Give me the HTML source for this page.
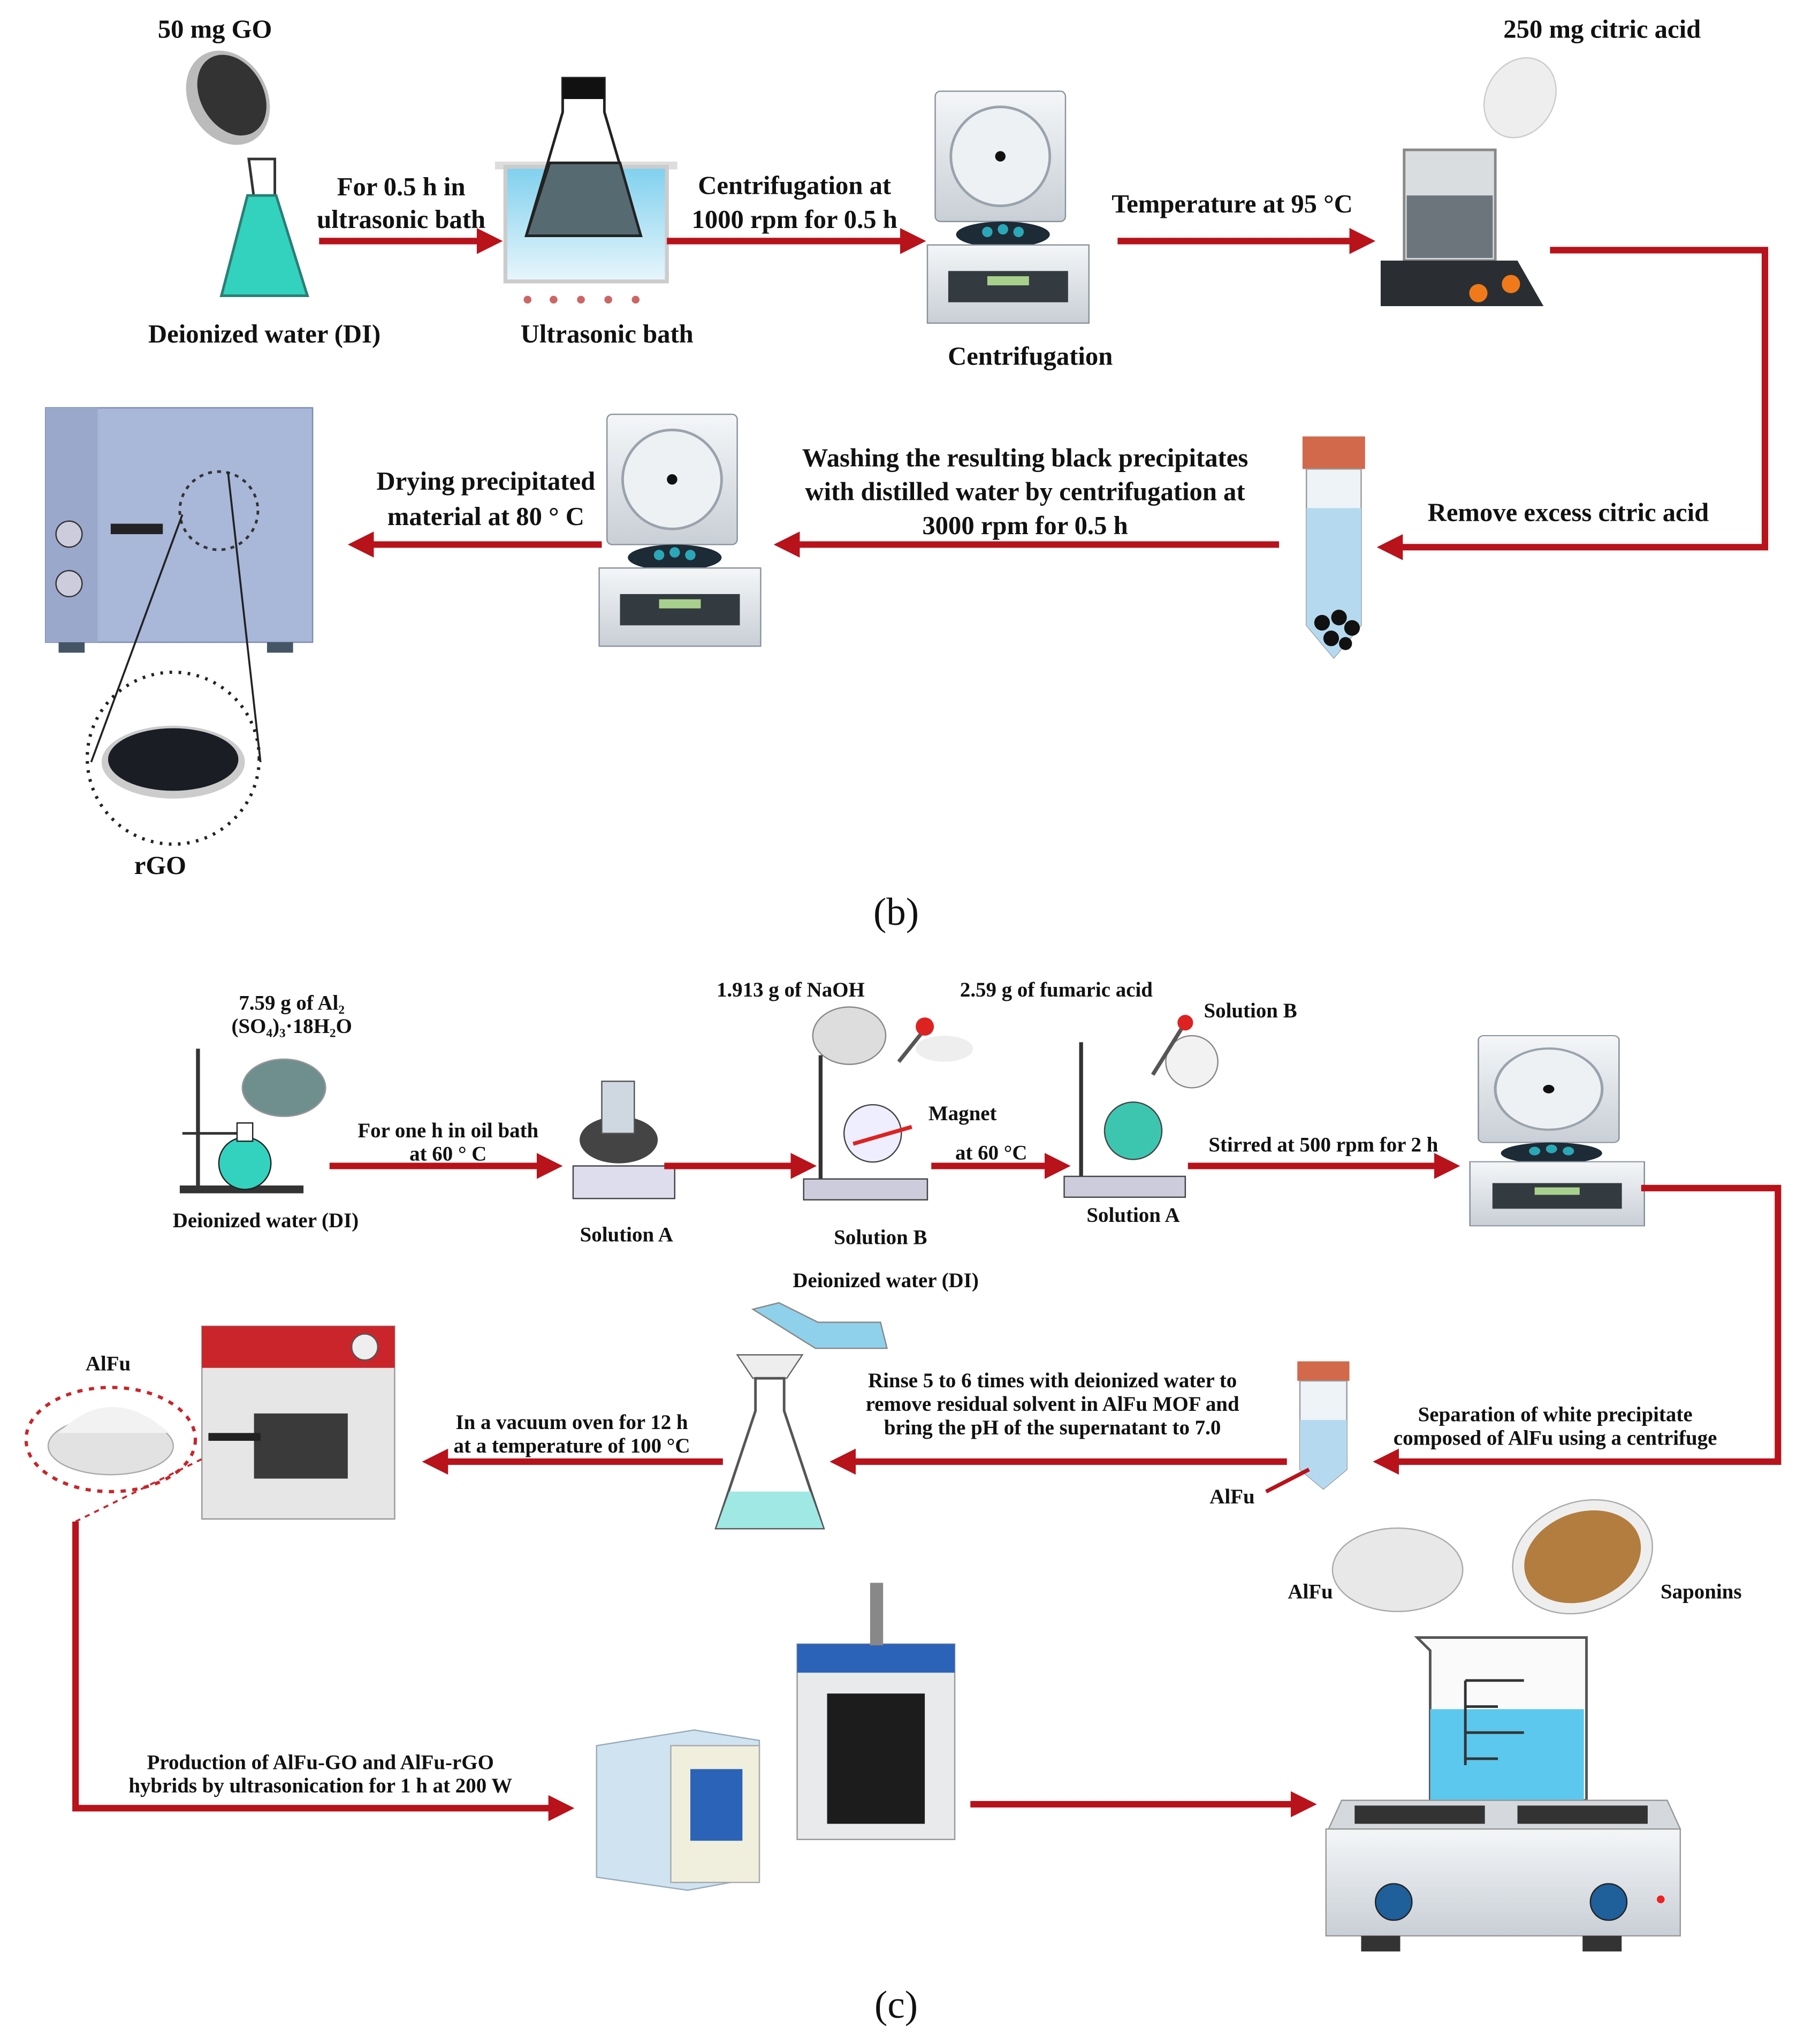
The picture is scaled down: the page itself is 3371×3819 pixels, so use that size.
<!DOCTYPE html>
<html><head><meta charset="utf-8"><style>
html,body{margin:0;padding:0;background:#fff;}
svg{display:block;}
text{font-family:"Liberation Serif",serif;font-weight:bold;fill:#111;text-anchor:middle;}
.b{font-size:20px;}
.c{font-size:16px;}
.ln{stroke:#b8121b;stroke-width:5;fill:none;}
</style></head><body>
<svg width="3371" height="3819" viewBox="0 0 1385 1569" xmlns="http://www.w3.org/2000/svg">
<defs>
<marker id="ah" markerWidth="4" markerHeight="4" refX="2" refY="2" orient="auto" markerUnits="strokeWidth"><path d="M0,0 L4,2 L0,4 z" fill="#b8121b"/></marker>
<linearGradient id="blue" x1="0" y1="0" x2="0" y2="1"><stop offset="0" stop-color="#7fd0ee"/><stop offset="1" stop-color="#e8f6fc"/></linearGradient>
<linearGradient id="gray" x1="0" y1="0" x2="0" y2="1"><stop offset="0" stop-color="#f4f6f8"/><stop offset="1" stop-color="#c9cfd6"/></linearGradient>
<g id="cent">
<rect x="0" y="0" width="100" height="100" rx="4" fill="url(#gray)" stroke="#8a939c"/>
<circle cx="50" cy="50" r="38" fill="#eef1f4" stroke="#9aa3ac" stroke-width="2"/>
<circle cx="50" cy="50" r="4" fill="#111"/>
<ellipse cx="52" cy="110" rx="36" ry="10" fill="#1d2b36"/>
<circle cx="40" cy="108" r="4" fill="#2aa8b8"/><circle cx="52" cy="106" r="4" fill="#2aa8b8"/><circle cx="64" cy="108" r="4" fill="#2aa8b8"/>
<rect x="-6" y="118" width="124" height="60" fill="url(#gray)" stroke="#8a939c"/>
<rect x="10" y="138" width="92" height="24" fill="#333a40"/>
<rect x="40" y="142" width="32" height="7" fill="#a8d08d"/>
</g>
</defs>

<!-- ===== (b) ===== -->
<text class="b" x="165" y="29">50 mg GO</text>
<ellipse cx="175" cy="75" rx="30" ry="38" fill="#bbb" transform="rotate(-30 175 75)"/>
<ellipse cx="178" cy="73" rx="24" ry="33" fill="#333" transform="rotate(-30 178 73)"/>
<path d="M191,122 h20 v30 l25,75 h-66 l25,-75z" fill="#fff" stroke="#333" stroke-width="2"/>
<path d="M190,150 h22 l24,77 h-66z" fill="#33d2be" stroke="#2a7f74" stroke-width="2"/>
<text class="b" x="203" y="263">Deionized water (DI)</text>
<line class="ln" x1="245" y1="185" x2="376" y2="185" marker-end="url(#ah)"/>
<text class="b" x="308" y="150">For 0.5 h in</text>
<text class="b" x="308" y="175">ultrasonic bath</text>

<rect x="380" y="124" width="140" height="6" fill="#ddd"/>
<rect x="388" y="128" width="124" height="88" fill="url(#blue)" stroke="#ccc" stroke-width="3"/>
<path d="M432,60 h32 v26 l28,95 h-88 l28,-95z" fill="#fff" stroke="#222" stroke-width="2"/>
<rect x="432" y="60" width="32" height="16" fill="#111"/>
<path d="M422,125 h54 l16,56 h-88z" fill="#566a72" stroke="#222" stroke-width="2"/>
<g fill="#c66" ><circle cx="405" cy="230" r="3"/><circle cx="425" cy="230" r="3"/><circle cx="446" cy="230" r="3"/><circle cx="467" cy="230" r="3"/><circle cx="488" cy="230" r="3"/></g>
<text class="b" x="466" y="263">Ultrasonic bath</text>
<line class="ln" x1="512" y1="185" x2="701" y2="185" marker-end="url(#ah)"/>
<text class="b" x="610" y="149">Centrifugation at</text>
<text class="b" x="610" y="175">1000 rpm for 0.5 h</text>
<use href="#cent" transform="translate(718,70) scale(1.0)"/>
<text class="b" x="791" y="280">Centrifugation</text>
<line class="ln" x1="858" y1="185" x2="1046" y2="185" marker-end="url(#ah)"/>
<text class="b" x="946" y="163">Temperature at 95 °C</text>

<text class="b" x="1230" y="29">250 mg citric acid</text>
<ellipse cx="1167" cy="75" rx="26" ry="32" fill="#eee" stroke="#ccc" transform="rotate(30 1167 75)"/>
<rect x="1078" y="115" width="70" height="85" fill="#d9dde0" stroke="#888" stroke-width="2"/>
<rect x="1080" y="150" width="66" height="48" fill="#6d757c"/>
<path d="M1060,200 h105 l20,35 h-125z" fill="#2a2e33"/>
<circle cx="1135" cy="225" r="7" fill="#f07a1a"/><circle cx="1160" cy="218" r="7" fill="#f07a1a"/>
<polyline class="ln" points="1190,192 1355,192 1355,420 1067,420" marker-end="url(#ah)"/>
<text class="b" x="1204" y="400">Remove excess citric acid</text>

<rect x="1000" y="335" width="48" height="25" fill="#d2694a"/>
<path d="M1003,360 h42 v120 l-21,25 l-21,-25z" fill="#eef3f7" stroke="#999"/>
<path d="M1003,390 h42 v90 l-21,25 l-21,-25z" fill="#b5daf0"/>
<g fill="#111"><circle cx="1015" cy="478" r="6"/><circle cx="1028" cy="474" r="6"/><circle cx="1038" cy="482" r="6"/><circle cx="1022" cy="490" r="6"/><circle cx="1033" cy="494" r="5"/></g>
<line class="ln" x1="982" y1="418" x2="604" y2="418" marker-end="url(#ah)"/>
<text class="b" x="787" y="358">Washing the resulting black precipitates</text>
<text class="b" x="787" y="384">with distilled water by centrifugation at</text>
<text class="b" x="787" y="410">3000 rpm for 0.5 h</text>
<use href="#cent" transform="translate(466,318)"/>
<line class="ln" x1="462" y1="418" x2="277" y2="418" marker-end="url(#ah)"/>
<text class="b" x="373" y="376">Drying precipitated</text>
<text class="b" x="373" y="403">material at 80 ° C</text>

<rect x="35" y="313" width="205" height="180" fill="#a9b7d9" stroke="#7c8bb0"/>
<rect x="35" y="313" width="40" height="180" fill="#9aa8cc"/>
<rect x="45" y="493" width="20" height="8" fill="#456"/><rect x="205" y="493" width="20" height="8" fill="#456"/>
<circle cx="53" cy="410" r="10" fill="#ccd" stroke="#333"/><circle cx="53" cy="448" r="10" fill="#ccd" stroke="#333"/>
<rect x="85" y="402" width="40" height="8" fill="#222"/>
<circle cx="168" cy="392" r="30" fill="none" stroke="#333" stroke-width="2" stroke-dasharray="3 4"/>
<line x1="140" y1="395" x2="70" y2="585" stroke="#222" stroke-width="1.5"/>
<line x1="175" y1="362" x2="200" y2="585" stroke="#222" stroke-width="1.5"/>
<circle cx="133" cy="582" r="66" fill="none" stroke="#222" stroke-width="2.5" stroke-dasharray="2 5"/>
<ellipse cx="133" cy="585" rx="55" ry="28" fill="#ccc"/>
<ellipse cx="133" cy="583" rx="50" ry="24" fill="#1a1d24"/>
<text class="b" x="123" y="671">rGO</text>
<text x="688" y="710" style="font-size:30px;font-weight:normal">(b)</text>

<!-- ===== (c) ===== -->
<text class="c" x="224" y="775">7.59 g of Al₂</text>
<text class="c" x="224" y="793">(SO₄)₃·18H₂O</text>
<ellipse cx="218" cy="835" rx="32" ry="22" fill="#6f8f8f" stroke="#999"/>
<line x1="152" y1="805" x2="152" y2="912" stroke="#333" stroke-width="3"/>
<rect x="138" y="910" width="95" height="6" fill="#333"/>
<line x1="140" y1="870" x2="185" y2="870" stroke="#333" stroke-width="2"/>
<circle cx="188" cy="893" r="20" fill="#33d2be" stroke="#222"/>
<rect x="182" y="862" width="12" height="14" fill="#fff" stroke="#222"/>
<text class="c" x="204" y="942">Deionized water (DI)</text>
<line class="ln" x1="253" y1="895" x2="422" y2="895" marker-end="url(#ah)"/>
<text class="c" x="344" y="873">For one h in oil bath</text>
<text class="c" x="344" y="891">at 60 ° C</text>
<rect x="440" y="895" width="78" height="25" fill="#dde" stroke="#444"/>
<ellipse cx="475" cy="875" rx="30" ry="18" fill="#444"/>
<rect x="462" y="830" width="25" height="40" fill="#cfd8e0" stroke="#555"/>
<text class="c" x="481" y="953">Solution A</text>
<line class="ln" x1="510" y1="895" x2="617" y2="895" marker-end="url(#ah)"/>

<text class="c" x="607" y="765">1.913 g of NaOH</text>
<text class="c" x="811" y="765">2.59 g of fumaric acid</text>
<ellipse cx="652" cy="795" rx="28" ry="22" fill="#ddd" stroke="#888"/>
<line x1="710" y1="790" x2="690" y2="815" stroke="#555" stroke-width="3"/><circle cx="710" cy="788" r="7" fill="#d22"/>
<ellipse cx="725" cy="805" rx="22" ry="10" fill="#eee"/>
<line x1="630" y1="810" x2="630" y2="918" stroke="#333" stroke-width="3"/>
<rect x="617" y="905" width="95" height="16" fill="#ccd" stroke="#444"/>
<circle cx="670" cy="870" r="22" fill="#eef" stroke="#444"/>
<line x1="655" y1="878" x2="700" y2="865" stroke="#d22" stroke-width="3"/>
<text class="c" x="739" y="860">Magnet</text>
<text class="c" x="676" y="955">Solution B</text>
<line class="ln" x1="715" y1="895" x2="812" y2="895" marker-end="url(#ah)"/>
<text class="c" x="761" y="890">at 60 °C</text>

<text class="c" x="960" y="781">Solution B</text>
<circle cx="915" cy="815" r="20" fill="#f2f2f2" stroke="#888"/>
<line x1="910" y1="785" x2="885" y2="825" stroke="#555" stroke-width="3"/><circle cx="910" cy="785" r="6" fill="#d22"/>
<line x1="830" y1="800" x2="830" y2="918" stroke="#333" stroke-width="3"/>
<rect x="817" y="903" width="93" height="16" fill="#ccd" stroke="#444"/>
<circle cx="870" cy="868" r="22" fill="#3cc6b0" stroke="#444"/>
<text class="c" x="870" y="938">Solution A</text>
<line class="ln" x1="912" y1="895" x2="1111" y2="895" marker-end="url(#ah)"/>
<text class="c" x="1016" y="884">Stirred at 500 rpm for 2 h</text>
<use href="#cent" transform="translate(1135,795) scale(1.08,0.82)"/>
<polyline class="ln" points="1260,912 1365,912 1365,1122 1064,1122" marker-end="url(#ah)"/>
<text class="c" x="1194" y="1091">Separation of white precipitate</text>
<text class="c" x="1194" y="1109">composed of AlFu using a centrifuge</text>

<rect x="996" y="1045" width="40" height="15" fill="#d2694a"/>
<path d="M998,1060 h36 v68 l-18,15 l-18,-15z" fill="#eef3f7" stroke="#999"/>
<path d="M998,1090 h36 v38 l-18,15 l-18,-15z" fill="#b5daf0"/>
<line x1="1005" y1="1128" x2="972" y2="1145" stroke="#b8121b" stroke-width="3"/>
<text class="c" x="946" y="1154">AlFu</text>
<line class="ln" x1="988" y1="1122" x2="647" y2="1122" marker-end="url(#ah)"/>
<text class="c" x="808" y="1065">Rinse 5 to 6 times with deionized water to</text>
<text class="c" x="808" y="1083">remove residual solvent in AlFu MOF and</text>
<text class="c" x="808" y="1101">bring the pH of the supernatant to 7.0</text>
<text class="c" x="680" y="988">Deionized water (DI)</text>
<path d="M578,1005 l20,-5 l30,15 l48,0 l5,20 l-55,0z" fill="#8fd0ea" stroke="#888"/>
<path d="M566,1040 h50 l-12,18 h-26z" fill="#eee" stroke="#666"/>
<path d="M580,1058 h22 v25 l30,90 h-82 l30,-90z" fill="#fff" stroke="#555" stroke-width="2"/>
<path d="M560,1145 h62 l10,28 h-82z" fill="#9fe8e4"/>
<line class="ln" x1="555" y1="1122" x2="334" y2="1122" marker-end="url(#ah)"/>
<text class="c" x="439" y="1097">In a vacuum oven for 12 h</text>
<text class="c" x="439" y="1115">at a temperature of 100 °C</text>

<rect x="155" y="1018" width="148" height="148" fill="#e6e6e6" stroke="#999"/>
<rect x="155" y="1018" width="148" height="32" fill="#c9252b"/>
<circle cx="280" cy="1034" r="10" fill="#eee" stroke="#555"/>
<rect x="195" y="1085" width="72" height="50" fill="#3a3a3a"/>
<rect x="160" y="1100" width="40" height="6" fill="#222"/>
<ellipse cx="85" cy="1105" rx="65" ry="40" fill="none" stroke="#c9252b" stroke-width="2.5" stroke-dasharray="4 5"/>
<ellipse cx="85" cy="1110" rx="48" ry="22" fill="#e2e2e2" stroke="#aaa"/>
<path d="M45,1100 q40,-40 85,0z" fill="#f2f2f2"/>
<text class="c" x="83" y="1052">AlFu</text>
<line x1="58" y1="1168" x2="155" y2="1120" stroke="#c9252b" stroke-width="1.5" stroke-dasharray="4 4"/>
<polyline class="ln" points="58,1168 58,1388 431,1388" marker-end="url(#ah)"/>
<text class="c" x="246" y="1358">Production of AlFu-GO and AlFu-rGO</text>
<text class="c" x="246" y="1376">hybrids by ultrasonication for 1 h at 200 W</text>

<path d="M458,1340 l75,-12 l50,8 l0,105 l-55,10 l-70,-10z" fill="#cfe3f0" stroke="#9ab"/>
<rect x="515" y="1340" width="68" height="105" fill="#f0eedd" stroke="#aaa"/>
<rect x="530" y="1358" width="40" height="55" fill="#2b63b8"/>
<rect x="612" y="1262" width="121" height="150" fill="#e8eaec" stroke="#999"/>
<rect x="612" y="1262" width="121" height="22" fill="#2b63b8"/>
<rect x="635" y="1300" width="75" height="100" fill="#1c1c1c"/>
<rect x="668" y="1215" width="10" height="48" fill="#888"/>
<line class="ln" x1="745" y1="1385" x2="1001" y2="1385" marker-end="url(#ah)"/>

<ellipse cx="1073" cy="1205" rx="50" ry="32" fill="#e8e8e8" stroke="#aaa"/>
<text class="c" x="1006" y="1227">AlFu</text>
<ellipse cx="1215" cy="1195" rx="55" ry="42" fill="#eee" stroke="#aaa" transform="rotate(-20 1215 1195)"/>
<ellipse cx="1215" cy="1195" rx="46" ry="34" fill="#b27d3e" transform="rotate(-20 1215 1195)"/>
<text class="c" x="1306" y="1227">Saponins</text>
<path d="M1088,1257 h130 v125 h-120 v-115z" fill="#fafafa" stroke="#555" stroke-width="2"/>
<rect x="1098" y="1312" width="118" height="70" fill="#5cc8ee"/>
<g stroke="#333" stroke-width="2"><line x1="1125" y1="1290" x2="1170" y2="1290"/><line x1="1125" y1="1310" x2="1150" y2="1310"/><line x1="1125" y1="1330" x2="1170" y2="1330"/><line x1="1125" y1="1350" x2="1150" y2="1350"/><line x1="1125" y1="1290" x2="1125" y2="1355"/></g>
<path d="M1030,1382 h250 l10,22 h-270z" fill="#d5d9dd" stroke="#999"/>
<rect x="1018" y="1404" width="272" height="82" fill="url(#gray)" stroke="#999"/>
<rect x="1040" y="1386" width="100" height="14" fill="#333"/><rect x="1165" y="1386" width="100" height="14" fill="#333"/>
<circle cx="1070" cy="1460" r="14" fill="#1f5f9a" stroke="#222"/><circle cx="1235" cy="1460" r="14" fill="#1f5f9a" stroke="#222"/>
<circle cx="1275" cy="1458" r="3" fill="#e22"/>
<rect x="1045" y="1486" width="30" height="12" fill="#333"/><rect x="1215" y="1486" width="30" height="12" fill="#333"/>
<text x="688" y="1549" style="font-size:30px;font-weight:normal">(c)</text>
</svg>
</body></html>
